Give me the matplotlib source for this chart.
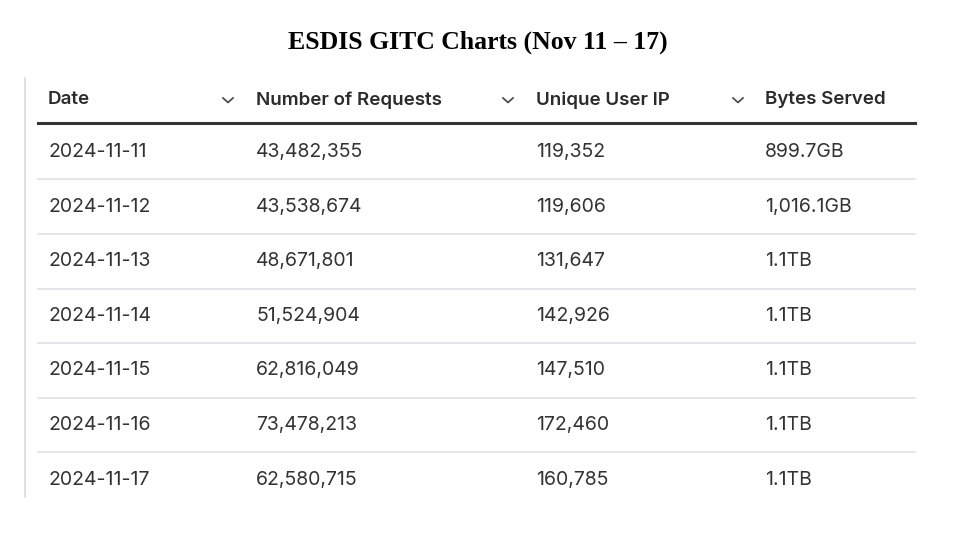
import matplotlib.pyplot as plt

title = "ESDIS GITC Charts (Nov 11 \u2013 17)"
columns = ["Date", "Number of Requests", "Unique User IP", "Bytes Served"]
dates = ["2024-11-11", "2024-11-12", "2024-11-13", "2024-11-14",
         "2024-11-15", "2024-11-16", "2024-11-17"]
requests = ["43,482,355", "43,538,674", "48,671,801", "51,524,904",
            "62,816,049", "73,478,213", "62,580,715"]
unique_ips = ["119,352", "119,606", "131,647", "142,926",
              "147,510", "172,460", "160,785"]
bytes_served = ["899.7GB", "1,016.1GB", "1.1TB", "1.1TB",
                "1.1TB", "1.1TB", "1.1TB"]

W, H = 955, 535
fig = plt.figure(figsize=(W / 100, H / 100), dpi=100)
ax = fig.add_axes([0, 0, 1, 1])
ax.set_xlim(0, W)
ax.set_ylim(H, 0)
ax.axis("off")

ax.text(W / 2, 42, title, ha="center", va="center", fontsize=18.5,
        fontweight="bold", family="Liberation Serif", color="black")

col_x = [48, 256, 536, 765]
chevron_x = [228, 508, 738]
left, right = 38, 915
header_y = 100
row_y0, row_h = 152, 54.6

# faint left border
ax.plot([25, 25], [78, 497], color="#dcdcdc", lw=1.2)

for x, name in zip(col_x, columns):
    ax.text(x, header_y, name, ha="left", va="center", fontsize=13.5,
            fontweight="semibold", family="Inter", color="#2b2b2b")
for cx in chevron_x:
    ax.plot([cx - 5, cx, cx + 5], [header_y - 2, header_y + 2.5, header_y - 2],
            color="#444444", lw=1.2)

ax.plot([left, right], [123, 123], color="#333333", lw=2.2)

rows = list(zip(dates, requests, unique_ips, bytes_served))
for i, row in enumerate(rows):
    y = row_y0 + i * row_h
    for x, val in zip(col_x, row):
        ax.text(x, y, val, ha="left", va="center", fontsize=14,
                family="Inter", color="#333333")
    if i < len(rows) - 1:
        ax.plot([left, right], [y + row_h / 2, y + row_h / 2],
                color="#e2e2e6", lw=1.2)

fig.savefig("out.png", dpi=100, facecolor="white")
